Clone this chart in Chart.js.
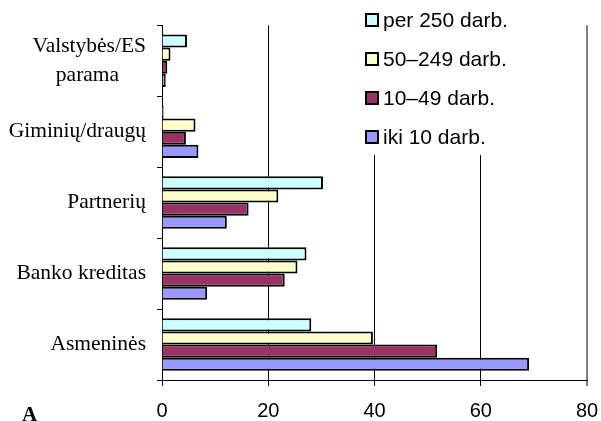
<!DOCTYPE html>
<html>
<head>
<meta charset="utf-8">
<script src="https://cdn.jsdelivr.net/npm/chart.js@4/dist/chart.umd.min.js"></script>
<style>
  html, body { margin: 0; padding: 0; background: #fff; }
  canvas { display: block; }
</style>
</head>
<body>
<canvas id="c" width="601" height="421"></canvas>
<script>
// ---- data ----
const categories = [['Valstybės/ES', 'parama'], 'Giminių/draugų', 'Partnerių', 'Banko kreditas', 'Asmeninės'];
const seriesNames = ['per 250 darb.', '50–249 darb.', '10–49 darb.', 'iki 10 darb.'];
const per250 = [4.7, 0.3, 30.3, 27.2, 28.1];
const from50to249 = [1.6, 6.3, 21.9, 25.5, 39.7];
const from10to49 = [1.0, 4.5, 16.3, 23.1, 51.8];
const upTo10 = [0.7, 6.85, 12.2, 8.5, 69.1];
const xTicks = [0, 20, 40, 60, 80];

const colors = ['#CCFFFF', '#FFFFCC', '#993366', '#9999FF'];
const serifFont = "'Times New Roman', 'Liberation Serif', serif";
const sansFont = "Arial, 'Liberation Sans', sans-serif";
const ySize = 21.5;

const mctx = document.createElement('canvas').getContext('2d');
mctx.font = ySize + 'px ' + serifFont;

const legendPlugin = {
  id: 'customLegend',
  afterDatasetsDraw(chart) {
    const ctx = chart.ctx;
    ctx.save();
    ctx.fillStyle = '#ffffff';
    ctx.fillRect(358, 0, 205, 155);
    const startY = 20, step = 39;
    chart.data.datasets.forEach((ds, i) => {
      const cy = startY + i * step;
      ctx.fillStyle = ds.backgroundColor;
      ctx.fillRect(366, cy - 6, 12, 12);
      ctx.lineWidth = 2;
      ctx.strokeStyle = '#000';
      ctx.strokeRect(366, cy - 6, 12, 12);
      ctx.fillStyle = '#000';
      ctx.font = '21px ' + sansFont;
      ctx.textAlign = 'left';
      ctx.textBaseline = 'middle';
      ctx.fillText(ds.label, 383, cy + 1);
    });
    // panel letter
    ctx.font = 'bold 21px ' + serifFont;
    ctx.textBaseline = 'alphabetic';
    ctx.fillText('A', 22, 421);
    ctx.restore();
  }
};

const seriesData = [per250, from50to249, from10to49, upTo10];

new Chart(document.getElementById('c'), {
  type: 'bar',
  data: {
    labels: categories,
    datasets: seriesData.map((d, i) => ({
      label: seriesNames[i],
      data: d,
      backgroundColor: colors[i],
      borderColor: '#000',
      borderWidth: 2,
      borderSkipped: 'start',
      barPercentage: 1.0,
      categoryPercentage: 0.74
    }))
  },
  options: {
    indexAxis: 'y',
    responsive: false,
    animation: false,
    devicePixelRatio: 1,
    layout: { padding: { top: 19, right: 14, left: 0, bottom: 0 } },
    plugins: { legend: { display: false }, tooltip: { enabled: false } },
    scales: {
      x: {
        min: 0, max: 80,
        afterBuildTicks(scale) { scale.ticks = xTicks.map(v => ({ value: v })); },
        afterFit(scale) { scale.height = 41; scale.paddingRight = 0; scale.paddingLeft = 0; },
        border: { display: true, color: '#000', width: 1 },
        grid: {
          color: ctx => (ctx.tick && ctx.tick.value === 80) ? '#808080' : '#000',
          lineWidth: ctx => (ctx.tick && ctx.tick.value === 80) ? 2 : 1,
          drawTicks: true,
          tickLength: 6
        },
        ticks: {
          color: '#000',
          font: { family: sansFont, size: 20 },
          padding: 13,
          maxRotation: 0
        }
      },
      y: {
        afterFit(scale) { scale.width = 162; },
        border: { display: true, color: '#000', width: 1 },
        grid: {
          drawOnChartArea: false,
          drawTicks: true,
          tickLength: 5,
          tickColor: '#000',
          offset: true
        },
        ticks: {
          color: '#000',
          padding: 11,
          font: { family: serifFont, size: ySize, lineHeight: 1.32 },
          callback: function (value) {
            const lab = this.getLabelForValue(value);
            if (Array.isArray(lab)) {
              const widths = lab.map(s => mctx.measureText(s).width);
              const maxW = Math.max(...widths);
              const sw = mctx.measureText(' ').width;
              return lab.map((s, k) => s + ' '.repeat(Math.round((maxW - widths[k]) / 2 / sw)));
            }
            return lab;
          }
        }
      }
    }
  },
  plugins: [legendPlugin]
});
</script>
</body>
</html>
